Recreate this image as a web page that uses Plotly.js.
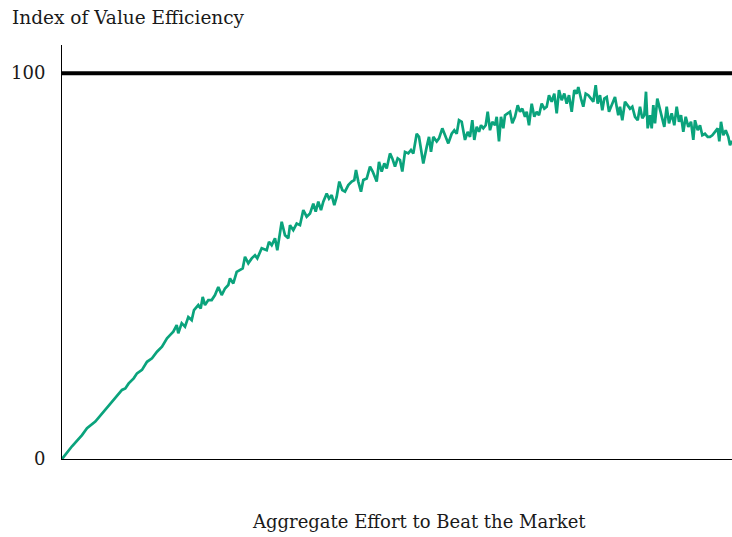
<!DOCTYPE html>
<html>
<head>
<meta charset="utf-8">
<script src="https://cdn.plot.ly/plotly-3.0.1.min.js"></script>
<style>html,body{margin:0;padding:0;background:#fff;}#chart{width:732px;height:537px;}</style>
</head>
<body>
<div id="chart"></div>
<script>
// Aggregate effort (arbitrary units, 0..670) and index of value efficiency
const effort = [
  0, 10, 20, 25, 33.3, 40, 43.3, 50, 55, 60, 63.3, 66.7, 71.7, 75, 80, 85, 90, 95, 100, 105,
  108, 111.3, 114.7, 116.3, 119.7, 123, 126.3, 129.7, 132, 136.3, 138.7, 140.7, 143, 146.3, 149.7, 153, 156.3, 159.7, 163, 166.3,
  168, 171.3, 174.7, 178, 180.7, 183, 186.3, 189.7, 193, 195.3, 199.7, 204.7, 207, 209.7, 213, 215.3, 217.3, 219.7, 223, 226.3,
  228, 231.3, 234.7, 238, 241.3, 244.7, 248, 251.3, 253.7, 256.3, 259, 261.3, 264.7, 267, 269.7, 272.3, 274.7, 277.3, 280.3, 283,
  286.3, 289.7, 292.3, 294, 296.3, 299, 301.3, 304.7, 308, 310.7, 314.7, 317, 319.7, 322.3, 324.7, 328, 330.3, 333,
  335.7, 338, 340.3, 343, 346.3, 349, 351.3, 354.7, 357, 361.3, 364.7, 367, 369, 371.3, 374.7, 377, 380.3, 383, 386.3, 389.7,
  392.3, 394.7, 397, 399.7, 403, 405.7, 408, 410.3, 412.3, 414.7, 417, 419, 421.3, 423.7, 425.7, 428, 430.3, 433, 434.7, 437, 439, 441.3,
  443, 445.7, 448, 450.3, 453, 455.7, 458, 460.3, 463, 464.7, 467, 469.7, 472.3, 474.7, 477, 479.7, 482.3, 484.7, 487, 489.7,
  492.3, 494.7, 497, 499.7, 502.3, 504.7, 507, 509.7, 512.3, 514.7, 516.3, 519, 521.3, 523.7, 526.3, 529, 531.3, 533.7, 535.7, 538,
  540.3, 542.3, 544.7, 547, 549.7, 552.3,
  553, 554.7, 556.3, 558, 560.3, 563, 565.7, 568, 570.3, 573, 575.7, 578, 580.3, 582.3, 584, 585.7, 588, 589.7, 591.3, 593,
  595.3, 597.3, 599.7, 602.3, 604.7, 607, 609.7, 612.3, 614.7, 617, 619, 621.3, 623.7, 626.3, 629, 631.3, 633, 635.7, 638, 640.3,
  643, 645.7, 648, 650.3, 653, 655.7, 657.3, 659, 661.3, 663.7, 666.3, 668, 670
];
const efficiency = [
  0, 3.3, 6.2, 8.0, 9.7, 11.8, 12.7, 14.8, 16.6, 17.9, 18.3, 19.6, 20.9, 22.2, 23.1, 25.2, 26.1, 27.8, 29.1, 31.3,
  32.1, 33.0, 34.7, 32.6, 35.2, 34.3, 36.8, 36.0, 38.6, 39.9, 39.0, 42.0, 39.9, 41.2, 41.2, 42.5, 44.6, 42.5, 44.2, 45.1,
  46.8, 45.5, 48.5, 49.0, 49.4, 52.4, 50.7, 52.0, 52.8, 52.0, 54.6, 54.1, 56.3, 55.4, 57.2, 54.1, 58.0, 61.5, 58.0, 57.2,
  60.6, 59.3, 61.0, 60.6, 64.5, 62.8, 63.6, 66.2, 64.1, 66.7, 64.5, 66.7, 68.8, 67.5, 68.4, 65.8, 68.0, 71.9, 69.7, 69.3,
  71.0, 71.9, 72.3, 74.9, 71.9, 69.3, 72.3, 72.7, 75.8, 74.5, 71.9, 77.0, 74.5, 76.6, 75.3, 79.2, 77.9, 75.8,
  77.9, 77.5, 74.5, 79.6, 79.2, 80.1, 79.2, 84.3, 83.5, 76.6, 80.9, 83.5, 79.6, 83.5, 82.3, 83.1, 85.7, 83.9, 81.8, 84.3,
  85.2, 84.3, 87.8, 87.4, 82.7, 84.8, 83.5, 87.8, 82.7, 86.1, 84.8, 86.5, 85.7, 86.5, 90.0, 85.2, 87.4, 86.5, 88.7, 82.3, 88.7, 85.7,
  89.1, 89.6, 90.0, 87.0, 88.7, 91.7, 90.0, 90.8, 88.7, 90.0, 86.5, 92.1, 88.7, 90.0, 89.1, 92.1, 90.8, 91.3, 94.3, 92.6,
  94.7, 89.6, 95.6, 93.0, 94.7, 92.1, 94.3, 90.0, 95.6, 94.7, 96.4, 93.4, 91.3, 94.7, 94.3, 93.4, 92.6, 96.9, 92.1, 94.3,
  90.4, 93.4, 93.8, 90.0, 91.7, 93.4,
  93.8, 91.3, 89.1, 91.3, 87.8, 92.6, 91.7, 90.8, 91.3, 88.7, 87.8, 91.3, 88.3, 89.1, 95.2, 85.7, 89.1, 85.7, 91.7, 87.0,
  93.4, 91.3, 88.3, 86.1, 91.3, 87.0, 89.6, 86.5, 91.3, 87.4, 89.1, 84.8, 88.7, 86.1, 87.4, 82.7, 87.8, 85.2, 86.5, 83.9,
  84.3, 83.5, 83.5, 83.9, 84.8, 85.7, 82.3, 87.4, 83.9, 85.2, 83.5, 81.3, 82.5
];
const benchmark = 100;
const yTickVals = [0, 100];
const yTickText = ['0', '100'];
const chartTitle = 'Index of Value Efficiency';
const xTitle = 'Aggregate Effort to Beat the Market';

const serif = 'DejaVu Serif, Liberation Serif, serif';
const textColor = '#1a1a1a';

const trace = {
  x: effort,
  y: efficiency,
  type: 'scatter',
  mode: 'lines',
  line: {color: '#0aa37c', width: 2.7},
  hoverinfo: 'skip',
  cliponaxis: true
};

const layout = {
  width: 732,
  height: 537,
  margin: {l: 62, r: 0, t: 45, b: 78, pad: 0},
  paper_bgcolor: '#ffffff',
  plot_bgcolor: '#ffffff',
  showlegend: false,
  font: {family: serif, size: 18, color: textColor},
  xaxis: {
    range: [0, 670],
    showline: true, linecolor: '#000', linewidth: 1,
    showgrid: false, zeroline: false, ticks: '', showticklabels: false,
    fixedrange: true
  },
  yaxis: {
    range: [0, 107.3],
    showline: true, linecolor: '#000', linewidth: 1,
    showgrid: false, zeroline: false, ticks: '',
    tickvals: yTickVals, ticktext: yTickText,
    tickfont: {family: serif, size: 18, color: textColor},
    ticklabelstandoff: 12,
    fixedrange: true
  },
  shapes: [{
    type: 'line', xref: 'paper', yref: 'y',
    x0: 0, x1: 1, y0: benchmark, y1: benchmark,
    line: {color: '#000', width: 4}
  }],
  annotations: [
    {text: chartTitle, xref: 'paper', yref: 'paper', x: -0.078, y: 1.0676,
     xanchor: 'left', yanchor: 'middle', showarrow: false,
     font: {family: serif, size: 18.5, color: textColor}},
    {text: xTitle, xref: 'paper', yref: 'paper', x: 0.533, y: -0.152,
     xanchor: 'center', yanchor: 'middle', showarrow: false,
     font: {family: serif, size: 18, color: textColor}}
  ]
};

Plotly.newPlot('chart', [trace], layout, {displayModeBar: false, staticPlot: true});
</script>
</body>
</html>
